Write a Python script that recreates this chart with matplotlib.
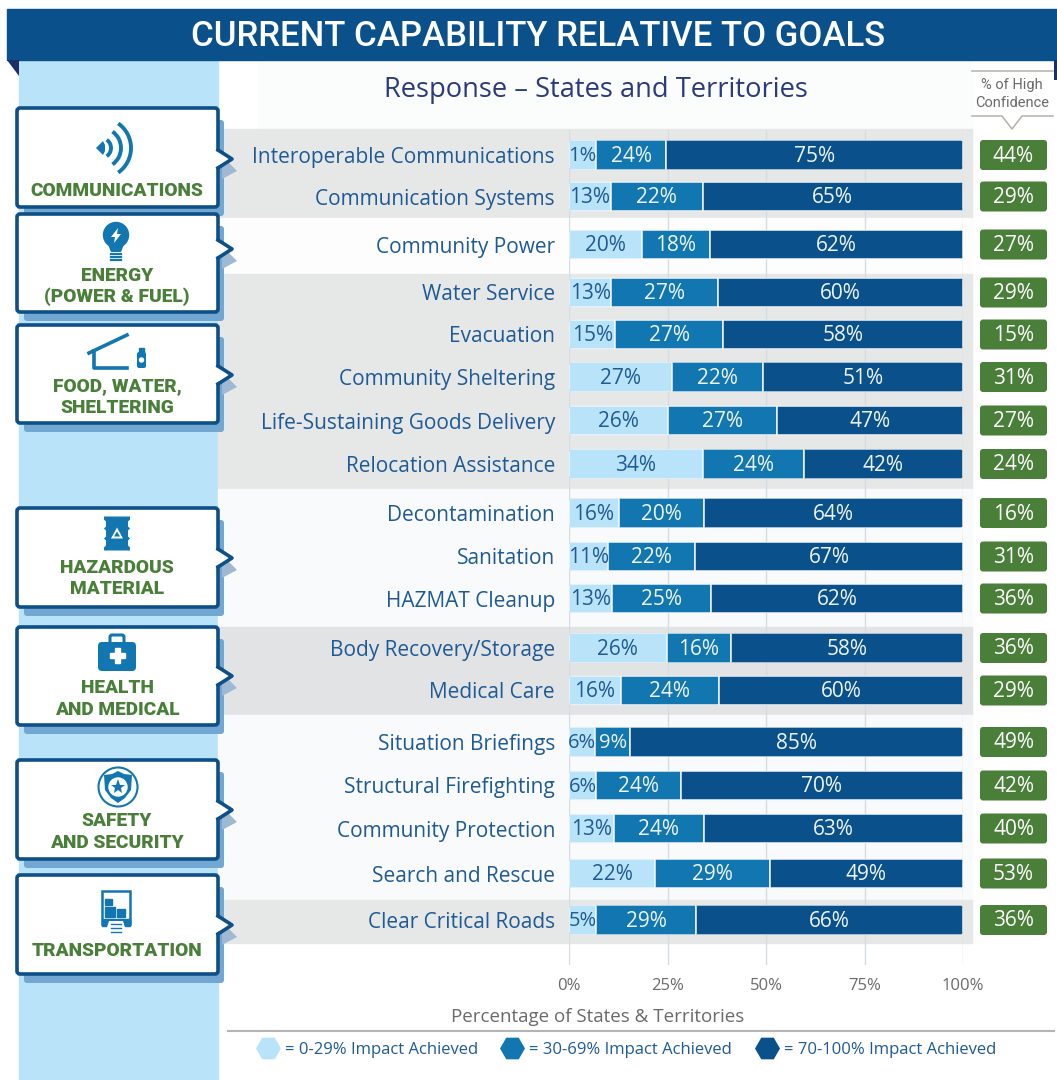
import numpy as np
import matplotlib
matplotlib.use('Agg')
import matplotlib.pyplot as plt
from matplotlib.patches import Arc, Circle, FancyBboxPatch, Polygon, Rectangle

# Printed values
capabilities = [
    'Interoperable Communications', 'Communication Systems', 'Community Power',
    'Water Service', 'Evacuation', 'Community Sheltering',
    'Life-Sustaining Goods Delivery', 'Relocation Assistance', 'Decontamination',
    'Sanitation', 'HAZMAT Cleanup', 'Body Recovery/Storage', 'Medical Care',
    'Situation Briefings', 'Structural Firefighting', 'Community Protection',
    'Search and Rescue', 'Clear Critical Roads',
]
low_labels = [1, 13, 20, 13, 15, 27, 26, 34, 16, 11, 13, 26, 16, 6, 6, 13, 22, 5]
mid_labels = [24, 22, 18, 27, 27, 22, 27, 24, 20, 22, 25, 16, 24, 9, 24, 24, 29, 29]
high_labels = [75, 65, 62, 60, 58, 51, 47, 42, 64, 67, 62, 58, 60, 85, 70, 63, 49, 66]
confidence = [44, 29, 27, 29, 15, 31, 27, 24, 16, 31, 36, 36, 29, 49, 42, 40, 53, 36]

# The bars as drawn do not follow the printed numbers exactly, so read them off the axis
low_end = [6.9, 10.6, 18.6, 10.7, 11.8, 26.1, 25.2, 33.9, 12.7, 9.9, 10.9, 24.8, 13.1, 6.7, 6.9, 11.4, 21.9, 6.9]
mid_end = [24.7, 33.9, 35.7, 37.9, 39.0, 49.2, 52.9, 59.6, 34.2, 32.1, 36.0, 41.1, 38.0, 15.6, 28.4, 34.2, 51.0, 32.3]

groups = [
    'COMMUNICATIONS', 'ENERGY\n(POWER & FUEL)', 'FOOD, WATER,\nSHELTERING',
    'HAZARDOUS\nMATERIAL', 'HEALTH\nAND MEDICAL', 'SAFETY\nAND SECURITY', 'TRANSPORTATION',
]
legend_labels = ['= 0-29% Impact Achieved', '= 30-69% Impact Achieved', '= 70-100% Impact Achieved']
x_ticks = [0, 25, 50, 75, 100]

# Layout, in reference pixels
row_y = [155, 196.5, 244.5, 292.5, 334.5, 377, 420.5, 464, 513, 556.5, 598.5, 648, 690.5, 742, 785.5, 828.5, 873.5, 920]
box_tops = [108, 214, 325, 508, 627, 760, 875]
box_bottoms = [207, 312, 423, 607, 725, 859, 974]
notch_y = [159, 249, 375, 558, 676, 810, 925]
group_text_y = [190.5, 286.5, 397, 578.5, 699, 832, 950.5]
bands = [(129, 218, '#e6e8e8'), (218, 274, '#fdfdfd'), (274, 489, '#e6e8e8'), (489, 627, '#f8fafb'),
         (627, 715, '#e2e3e4'), (715, 900, '#f8fafb'), (900, 943, '#e6e7e7')]

W, H = 1057, 1080
LIGHT = '#b9e3f8'
MID = '#1277b0'
DARK = '#0a518b'
BORDER = '#0f4f87'
GREEN = '#4a7f3a'
TEXT_BLUE = '#1f5a94'
GREY = '#6a6a6a'
BODY_FONT = ['Open Sans', 'DejaVu Sans']
HEAD_FONT = ['Roboto', 'DejaVu Sans']

plt.rcParams['font.family'] = BODY_FONT

fig = plt.figure(figsize=(W / 100, H / 100), dpi=100, facecolor='white')

# Background axes in pixel coordinates for the infographic furniture
bg = fig.add_axes([0, 0, 1, 1], zorder=0)
bg.set_xlim(0, W)
bg.set_ylim(H, 0)
bg.axis('off')


def poly(points, color, z=3, **kwargs):
    bg.add_patch(Polygon(points, closed=True, facecolor=color, edgecolor='none', zorder=z, **kwargs))


def round_box(x, y, w, h, r, color, z=3, edge='none', lw=0):
    patch = FancyBboxPatch((x, y), w, h, boxstyle=f'round,pad=0,rounding_size={r}',
                           facecolor=color, edgecolor=edge, linewidth=lw, zorder=z)
    bg.add_patch(patch)
    return patch


def draw_comm_icon(cx, cy):
    poly([(cx - 17, cy), (cx - 10, cy - 7), (cx - 8, cy - 3), (cx - 8, cy + 3), (cx - 10, cy + 7)], MID, 6)
    for r in (10, 20, 30):
        bg.add_patch(Arc((cx - 12, cy), 2 * r, 2 * r, theta1=-55, theta2=55, color=MID, lw=2.8, zorder=6))


def draw_bulb_icon(cx, cy):
    bg.add_patch(Circle((cx, cy - 7), 12.5, color=MID, zorder=6))
    poly([(cx - 9, cy), (cx + 9, cy), (cx + 5, cy + 10), (cx - 5, cy + 10)], MID, 6)
    for dy in (12, 15, 18):
        bg.plot([cx - 5, cx + 5], [cy + dy, cy + dy], color=MID, lw=1.6, zorder=6)
    poly([(cx + 2, cy - 14), (cx - 5, cy - 5), (cx - 1, cy - 5), (cx - 2, cy + 1), (cx + 5, cy - 8), (cx + 1, cy - 8)], 'white', 7)


def draw_food_icon(cx, cy):
    bg.plot([cx - 29, cx + 9], [cy - 5, cy - 23], color=MID, lw=2.6, zorder=6)
    bg.plot([cx - 24, cx - 24, cx + 9], [cy - 7, cy + 10, cy + 10], color=MID, lw=2.6, zorder=6)
    round_box(cx + 19, cy - 6, 9, 16, 2, MID, 6)
    bg.add_patch(Rectangle((cx + 21, cy - 10), 5, 5, color=MID, zorder=6))
    bg.add_patch(Circle((cx + 23.5, cy + 2), 2, color='white', zorder=7))


def draw_barrel_icon(cx, cy):
    poly([(cx - 13, cy - 17), (cx + 13, cy - 17), (cx + 13, cy - 14), (cx + 11, cy - 12), (cx + 11, cy - 7),
          (cx + 13, cy - 5), (cx + 11, cy - 3), (cx + 11, cy + 3), (cx + 13, cy + 5), (cx + 11, cy + 7),
          (cx + 11, cy + 12), (cx + 13, cy + 14), (cx + 13, cy + 17), (cx - 13, cy + 17), (cx - 13, cy + 14),
          (cx - 11, cy + 12), (cx - 11, cy + 7), (cx - 13, cy + 5), (cx - 11, cy + 3), (cx - 11, cy - 3),
          (cx - 13, cy - 5), (cx - 11, cy - 7), (cx - 11, cy - 12), (cx - 13, cy - 14)], MID, 6)
    poly([(cx, cy - 6), (cx + 6, cy + 5), (cx - 6, cy + 5)], 'white', 7)
    poly([(cx, cy - 2), (cx + 3, cy + 3), (cx - 3, cy + 3)], MID, 8)


def draw_case_icon(cx, cy):
    bg.add_patch(FancyBboxPatch((cx - 7, cy - 18), 14, 10, boxstyle='round,pad=0,rounding_size=2',
                                facecolor='none', edgecolor=MID, linewidth=2.2, zorder=6))
    round_box(cx - 19, cy - 11, 38, 29, 4, MID, 6)
    bg.add_patch(Rectangle((cx - 2.5, cy - 5), 5, 15, color='white', zorder=7))
    bg.add_patch(Rectangle((cx - 7.5, cy), 15, 5, color='white', zorder=7))


def draw_shield_icon(cx, cy):
    bg.add_patch(Circle((cx, cy), 19.5, facecolor='white', edgecolor=MID, linewidth=1.5, zorder=6))
    poly([(cx - 14, cy - 12), (cx - 6, cy - 13), (cx, cy - 16), (cx + 6, cy - 13), (cx + 14, cy - 12), (cx + 13, cy + 3),
          (cx + 7, cy + 11), (cx, cy + 16), (cx - 7, cy + 11), (cx - 13, cy + 3)], MID, 7)
    bg.add_patch(Circle((cx, cy), 9, color='white', zorder=8))
    bg.plot([cx], [cy], marker='*', color=MID, markersize=11, markeredgewidth=0, zorder=9)


def draw_truck_icon(cx, cy):
    bg.add_patch(Rectangle((cx - 14, cy - 21), 28, 33, facecolor='white', edgecolor=MID, linewidth=1.8, zorder=6))
    bg.add_patch(Rectangle((cx - 14, cy + 7), 28, 7, color=MID, zorder=6))
    for x0, y0, w0, h0 in [(-11, -13, 7, 6), (-11, -5, 10, 10), (1, -3, 8, 8)]:
        bg.add_patch(Rectangle((cx + x0, cy + y0), w0, h0, color=MID, zorder=7))
    poly([(cx - 7, cy + 9), (cx + 7, cy + 9), (cx + 11, cy + 22), (cx - 11, cy + 22)], 'white', 7)
    for dy in (12, 16, 20):
        bg.plot([cx - 5, cx + 5], [cy + dy, cy + dy], color=MID, lw=1, zorder=8)


icon_funcs = [draw_comm_icon, draw_bulb_icon, draw_food_icon, draw_barrel_icon, draw_case_icon, draw_shield_icon, draw_truck_icon]
icon_centers = [(113, 148), (116, 242), (118, 358), (117, 533.5), (117, 653), (118, 787), (116, 912)]

# Side column, header and bands
bg.add_patch(Rectangle((19, 60), 199, H - 60, color=LIGHT, zorder=1))
bg.add_patch(Rectangle((258, 62), 714, 66, color='#fbfcfc', zorder=1))
for top, bottom, color in bands:
    bg.add_patch(Rectangle((218, top), 754, bottom - top, color=color, zorder=1))
bg.add_patch(Rectangle((7, 9), W - 7, 51, color=DARK, zorder=4))
poly([(7, 60), (19, 60), (19, 76)], '#1c2f66', 4)
poly([(1054, 60), (1057, 60), (1057, 80), (1054, 80)], '#1c2f66', 4)
bg.text(538, 37, 'CURRENT CAPABILITY RELATIVE TO GOALS', color='white', fontsize=25,
        family=HEAD_FONT, fontweight='medium', ha='center', va='center', zorder=5)
bg.text(596, 90, 'Response – States and Territories', color='#2a3a7c', fontsize=19.6,
        ha='center', va='center', zorder=5)

# Category call-out boxes
for i, name in enumerate(groups):
    top, bottom, tip = box_tops[i], box_bottoms[i], notch_y[i]
    round_box(24, top + 12, 200, bottom - top - 3, 3, '#71a7d0', 2)
    poly([(222, tip - 3), (237, tip + 12), (222, tip + 20)], '#9fb9d3', 2)
    round_box(17, top, 201, bottom - top, 3, 'white', 3, edge=BORDER, lw=2.6)
    # Notch: white wedge drawn over the right border, outlined in the border colour
    poly([(216, tip - 8), (232, tip), (216, tip + 8)], 'white', 4)
    bg.plot([218, 232, 218], [tip - 9, tip, tip + 9], color=BORDER, lw=2.6, zorder=5)
    bg.text(117, group_text_y[i], name, color=GREEN, fontsize=13.8, fontweight='black', family=HEAD_FONT,
            ha='center', va='center', linespacing=1.22, zorder=6)
    icon_funcs[i](*icon_centers[i])

# Confidence column
bg.plot([972, 1053], [71, 71], color='#b5b0ab', lw=1.1, zorder=3)
bg.plot([972, 1002, 1012, 1022, 1053], [116, 116, 129, 116, 116], color='#b5b0ab', lw=1.1, zorder=3)
bg.text(1012, 94, '% of High\nConfidence', color=GREY, fontsize=10.5, family=HEAD_FONT,
        ha='center', va='center', linespacing=1.35, zorder=3)
for y, value in zip(row_y, confidence):
    round_box(980, y - 15, 67, 30, 3, GREEN, 3)
    bg.text(1013.5, y + 1, f'{value}%', color='white', fontsize=15, ha='center', va='center', zorder=4)

# Bars
ax = fig.add_axes([569 / W, 1 - 965 / H, 394 / W, (965 - 130) / H], zorder=2)
ax.patch.set_alpha(0)
ax.set_xlim(0, 100)
ax.set_ylim(965, 130)
for spine in ax.spines.values():
    spine.set_visible(False)

y = np.array(row_y)
low_end_arr = np.array(low_end)
mid_end_arr = np.array(mid_end)
bar_h = 29.5
edge = dict(edgecolor='#f1f6fa', linewidth=1.1)
low_bars = ax.barh(y, low_end_arr, bar_h, color=LIGHT, zorder=3, **edge)
mid_bars = ax.barh(y, mid_end_arr - low_end_arr, bar_h, left=low_end_arr, color=MID, zorder=3, **edge)
high_bars = ax.barh(y, 100 - mid_end_arr, bar_h, left=mid_end_arr, color=DARK, zorder=3, **edge)

for bars in (low_bars, mid_bars, high_bars):
    for rect, row in zip(bars, row_y):
        clip = FancyBboxPatch((569, row - bar_h / 2), 394, bar_h, boxstyle='round,pad=0,rounding_size=4',
                              transform=bg.transData)
        rect.set_clip_path(clip)

low_texts = ax.bar_label(low_bars, labels=[f'{v}%' for v in low_labels], label_type='center', color=TEXT_BLUE, fontsize=15)
mid_texts = ax.bar_label(mid_bars, labels=[f'{v}%' for v in mid_labels], label_type='center', color='#eef5fa', fontsize=15)
high_texts = ax.bar_label(high_bars, labels=[f'{v}%' for v in high_labels], label_type='center', color='#eef5fa', fontsize=15)
# Labels squeezed into the narrowest segments
for texts, values in ((low_texts, low_labels), (mid_texts, mid_labels)):
    for text, value in zip(texts, values):
        if value < 10:
            text.set_fontsize(14.5)
# Open Sans sits a little high when centred
for texts in (low_texts, mid_texts, high_texts):
    for text in texts:
        text.xyann = (0, -1)

ax.set_yticks(row_y, capabilities)
ax.tick_params(axis='y', length=0, pad=10, labelsize=15, labelcolor=TEXT_BLUE)
ax.set_xticks(x_ticks, [f'{t}%' for t in x_ticks])
ax.tick_params(axis='x', length=0, pad=9, labelsize=12, labelcolor=GREY)
ax.grid(axis='x', color='#d5dde2', linewidth=1, zorder=1)
ax.set_axisbelow(True)

# Axis title and legend
bg.text(598, 1017, 'Percentage of States & Territories', color=GREY, fontsize=13.5,
        ha='center', va='center', zorder=3)
bg.plot([228, 1054], [1031, 1031], color='#b4b4b4', lw=1.5, zorder=3)
for x, color, label, text_x in zip([268, 512, 767], [LIGHT, MID, DARK], legend_labels, [285, 529, 784]):
    bg.plot([x], [1048], marker='H', color=color, markersize=18, markeredgewidth=0, zorder=3)
    bg.text(text_x, 1049.5, label, color=TEXT_BLUE, fontsize=12, ha='left', va='center', zorder=3)

fig.savefig('out.png', dpi=100)
